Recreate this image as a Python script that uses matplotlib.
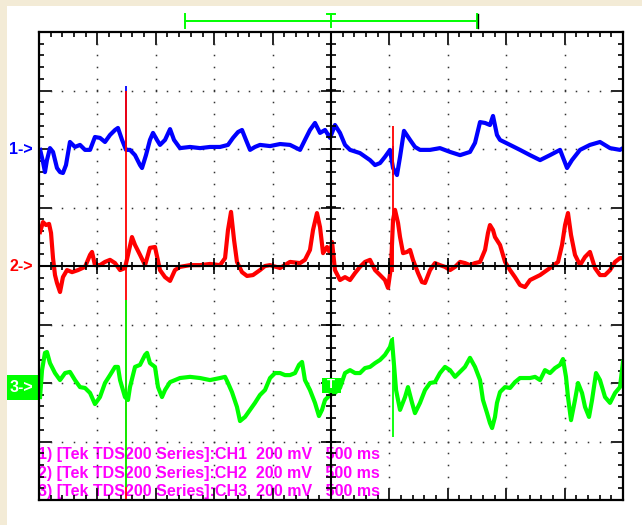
import numpy as np
import matplotlib
matplotlib.use("Agg")
from matplotlib import pyplot as plt
from matplotlib.patches import Rectangle

# scope settings
mv_per_div = 200
ms_per_div = 500
channel_offsets = [2, 0, -2]  # ground marker of each channel, in divisions

# CH1 (blue)
ch1_t = [10, 34, 51, 68, 94, 120, 154, 180, 205, 231, 265, 308, 351, 394, 437, 479, 522, 565, 608, 651,
         676, 711, 745, 779, 822, 865, 882, 916, 950, 976, 1010, 1036, 1079, 1122, 1156, 1207, 1293, 1379,
         1464, 1550, 1618, 1661, 1704, 1738, 1772, 1807, 1849, 1892, 1978, 2064, 2149, 2235, 2277, 2320,
         2363, 2406, 2449, 2492, 2534, 2577, 2620, 2663, 2748, 2834, 2877, 2920, 2962, 3005, 3031, 3065,
         3091, 3125, 3177, 3219, 3262, 3348, 3433, 3519, 3605, 3690, 3733, 3776, 3819, 3861, 3887, 3921,
         3947, 4033, 4118, 4204, 4290, 4375, 4461, 4521, 4563, 4632, 4717, 4803, 4889, 4974, 5000]
ch1_mv = [-3, -44, -79, -38, 3, -10, -65, -79, -82, -55, 24, 7, 14, -3, -3, 41, 38, 24, 48, 65,
          72, 31, -3, -3, -21, -55, -65, -21, 31, 55, 31, 14, 31, 68, 31, 3, 7, 3,
          7, 7, 14, 38, 58, 65, 31, -3, 7, 14, 10, 17, 14, -3, 31, 65,
          89, 55, 65, 38, 82, 55, 14, -3, -14, -38, -55, -48, -27, -3, -65, -89,
          -27, 62, 31, 7, -3, -3, 3, -10, -21, -10, 21, 92, 89, 82, 113, 48,
          31, 14, -3, -21, -38, -21, -3, -65, -38, -3, 14, 24, 3, -3, 3]

# CH2 (red)
ch2_t = [9, 34, 60, 86, 103, 120, 137, 154, 180, 205, 240, 283, 334, 394, 437, 454, 479, 522, 565, 608,
         651, 694, 736, 762, 796, 822, 865, 908, 950, 993, 1036, 1079, 1122, 1164, 1207, 1293, 1379, 1464,
         1550, 1593, 1618, 1644, 1670, 1695, 1738, 1781, 1832, 1892, 1935, 1978, 2064, 2149, 2235, 2277,
         2320, 2346, 2380, 2406, 2432, 2466, 2492, 2509, 2534, 2577, 2620, 2663, 2706, 2748, 2791, 2834,
         2877, 2920, 2962, 2988, 3014, 3031, 3048, 3074, 3091, 3117, 3151, 3177, 3202, 3245, 3279, 3305,
         3348, 3390, 3433, 3476, 3519, 3562, 3605, 3647, 3690, 3733, 3776, 3819, 3844, 3861, 3887, 3904,
         3947, 3990, 4033, 4075, 4118, 4161, 4204, 4290, 4375, 4444, 4478, 4504, 4529, 4555, 4589, 4632,
         4675, 4717, 4760, 4803, 4846, 4889, 4932, 4974, 5000]
ch2_mv = [116, 150, 140, 144, 113, 27, -31, -58, -89, -38, -14, -21, -14, -3, 38, 48, 3, 3, 14, 21,
          10, -14, -7, 38, 99, 72, 38, 3, 62, 65, -14, -38, -51, -14, -3, 3, 3, 7,
          3, 27, 123, 185, 89, 14, -21, -34, -31, -14, 0, 3, -7, 14, 10, 21,
          55, 123, 181, 133, 44, 65, 44, 82, -14, -48, -38, -48, -24, -3, 14, 21,
          -14, -31, -48, -75, -3, 157, 192, 147, 99, 44, 48, 55, 21, -24, -55, -58,
          -14, 10, 3, -3, -14, -3, 14, 10, 3, 10, 14, 55, 113, 140, 123, 99,
          72, 14, -14, -38, -65, -72, -48, -31, -7, 14, 72, 140, 181, 106, 38, 3,
          31, 48, -7, -31, -31, -14, 14, 27, 27]

# CH3 (green)
ch3_t = [9, 26, 51, 68, 94, 137, 180, 223, 265, 308, 351, 394, 437, 479, 522, 565, 608, 651, 676, 694,
         736, 762, 779, 822, 865, 908, 925, 950, 993, 1019, 1053, 1079, 1122, 1164, 1207, 1293, 1379,
         1464, 1550, 1593, 1618, 1652, 1695, 1721, 1764, 1807, 1849, 1892, 1935, 1978, 2021, 2064, 2106,
         2149, 2192, 2226, 2252, 2277, 2320, 2363, 2397, 2423, 2449, 2492, 2534, 2577, 2620, 2663, 2706,
         2748, 2791, 2834, 2877, 2920, 2962, 3005, 3022, 3039, 3057, 3091, 3134, 3159, 3194, 3219, 3262,
         3305, 3348, 3390, 3433, 3476, 3519, 3562, 3605, 3647, 3690, 3733, 3776, 3801, 3836, 3861, 3879,
         3904, 3921, 3947, 3990, 4033, 4075, 4118, 4204, 4247, 4290, 4332, 4375, 4418, 4461, 4486, 4512,
         4529, 4555, 4589, 4615, 4649, 4675, 4709, 4735, 4769, 4803, 4846, 4889, 4932, 4974, 5000]
ch3_mv = [-48, 44, 103, 106, 68, 34, 10, 34, 38, 10, -14, -17, -34, -72, -48, 0, 27, 55, 55, 10,
          -48, -58, -14, 55, 62, 96, 103, 68, 55, -14, -48, -24, 3, 10, 17, 21, 17,
          10, 17, 21, 0, -31, -82, -130, -116, -92, -68, -41, -24, 17, 34, 34, 27,
          27, 34, 62, 72, 10, -24, -68, -113, -92, -58, -41, -34, -17, 34, 44, 34,
          34, 51, 55, 68, 79, 96, 123, 147, 62, -24, -92, -48, -14, -68, -103, -68,
          -24, 0, 3, 34, 55, 44, 21, 38, 55, 86, 55, 10, -58, -103, -137, -154,
          -116, -68, -31, -14, -17, 3, 17, 17, 21, 10, 44, 34, 51, 62, 82, 21,
          -48, -127, -58, 0, -34, -82, -116, -58, 34, 10, -48, -68, -34, -14, 72]

# glitch spikes seen on all three channels (ms), with their top / bottom in mV
glitch_t = [745, 3031]
ch1_glitch = [(215, -3), (10, -90)]
ch2_glitch = [(600, -800), (480, -20)]
ch3_glitch = [(284, -356), (157, -185)]

labels = ["1) [Tek TDS200 Series]:CH1  200 mV   500 ms",
          "2) [Tek TDS200 Series]:CH2  200 mV   500 ms",
          "3) [Tek TDS200 Series]:CH3  200 mV   500 ms"]


def to_div(mv, offset):
    return np.asarray(mv, dtype=float) / mv_per_div + offset


def main():
    plt.rcParams["font.family"] = ["Liberation Sans", "DejaVu Sans"]

    fig = plt.figure(figsize=(6.42, 5.25), dpi=100, facecolor="#f3ebd6")
    fig.add_artist(Rectangle((7 / 642, 0), 1, 1 - 6 / 525, transform=fig.transFigure,
                             facecolor="white", edgecolor="none", zorder=0))
    ax = fig.add_axes([39 / 642, 25 / 525, 584 / 642, 468 / 525])
    ax.set_facecolor("white")

    t_end = 10 * ms_per_div
    ax.set_xlim(0, t_end)
    ax.set_ylim(-4, 4)

    # border ticks
    ax.set_xticks(np.arange(0, t_end + 1, ms_per_div))
    ax.set_xticks(np.arange(0, t_end + 1, ms_per_div / 5), minor=True)
    ax.set_yticks(np.arange(-4, 4.01, 1))
    ax.set_yticks(np.arange(-4, 4.01, 0.2), minor=True)
    ax.tick_params(which="both", direction="in", top=True, right=True, labelbottom=False,
                   labelleft=False, width=1.2, color="black")
    ax.tick_params(which="major", length=9)
    ax.tick_params(which="minor", length=3.8)
    for s in ax.spines.values():
        s.set_linewidth(1.6)
        s.set_zorder(6)

    # dotted graticule
    minor_x = np.arange(ms_per_div / 5, t_end, ms_per_div / 5)
    minor_y = np.arange(-3.8, 3.81, 0.2)
    for k in range(1, 10):
        if k == 5:
            continue
        ax.plot(np.full(len(minor_y), k * ms_per_div), minor_y, "s", ms=1.1, mew=0, color="#333333", zorder=2)
    for j in range(-3, 4):
        if j == 0:
            continue
        ax.plot(minor_x, np.full(len(minor_x), j), "s", ms=1.1, mew=0, color="#333333", zorder=2)

    # centre cross with its ticks
    ax.axvline(t_end / 2, color="black", lw=1.5, zorder=5)
    ax.axhline(0, color="black", lw=1.5, zorder=5)
    ax.plot(minor_x, np.zeros(len(minor_x)), "|", ms=6, mew=1.2, color="black", zorder=5)
    ax.plot(np.full(len(minor_y), t_end / 2), minor_y, "_", ms=7, mew=1.2, color="black", zorder=5)
    ax.plot(np.arange(ms_per_div, t_end, ms_per_div), np.zeros(9), "|", ms=12, mew=1.2, color="black", zorder=5)
    ax.plot(np.full(7, t_end / 2), np.arange(-3, 4), "_", ms=14, mew=1.2, color="black", zorder=5)

    # traces
    traces = [(ch1_t, ch1_mv, ch1_glitch, "#0000ff"),
              (ch2_t, ch2_mv, ch2_glitch, "#ff0000"),
              (ch3_t, ch3_mv, ch3_glitch, "#00ff00")]
    for i, (t, mv, glitch, color) in enumerate(traces):
        off = channel_offsets[i]
        ax.plot(t, to_div(mv, off), color=color, lw=3.0, zorder=3 + i * 0.1)
        hi = [g[0] for g in glitch]
        lo = [g[1] for g in glitch]
        ax.vlines(glitch_t, to_div(lo, off), to_div(hi, off), color=color, lw=1.3, zorder=3 + i * 0.1)

    # ground markers on the left
    ytr = ax.get_yaxis_transform()
    ax.text(-6 / 584, channel_offsets[0], "1->", color="#0000ff", fontsize=11.5, fontweight="bold",
            ha="right", va="center", transform=ytr)
    ax.text(-6 / 584, channel_offsets[1], "2->", color="#ff0000", fontsize=11.5, fontweight="bold",
            ha="right", va="center", transform=ytr)
    ax.add_patch(Rectangle((-32 / 584, channel_offsets[2] - 0.29), 32 / 584, 0.43, transform=ytr,
                           facecolor="#00ff00", edgecolor="none", clip_on=False, zorder=4))
    ax.text(-6 / 584, channel_offsets[2] - 0.07, "3->", color="white", fontsize=11.5, fontweight="bold",
            ha="right", va="center", transform=ytr, zorder=5)

    # trigger marker
    ax.add_patch(Rectangle((t_end / 2 - 80, -2.17), 163, 0.26, facecolor="#00ff00",
                           edgecolor="none", zorder=7))
    ax.text(t_end / 2 + 2, -2.04, "T", color="white", fontsize=9.5, fontweight="bold",
            ha="center", va="center", zorder=8)

    # record window bracket above the screen
    left, right = 2.5 * ms_per_div, 7.5 * ms_per_div
    ax.plot([left, right], [4.19, 4.19], color="#00ff00", lw=1.4, clip_on=False)
    ax.plot([left, left], [4.07, 4.31], color="#00ff00", lw=1.4, clip_on=False)
    ax.plot([right, right], [4.07, 4.31], color="#00ff00", lw=1.4, clip_on=False)
    ax.plot([right + 12, right + 12], [4.07, 4.31], color="black", lw=1.0, clip_on=False)
    ax.plot([t_end / 2, t_end / 2], [4.08, 4.31], color="#00ff00", lw=1.4, clip_on=False)
    ax.plot([t_end / 2 - 35, t_end / 2 + 35], [4.31, 4.31], color="#00ff00", lw=1.4, clip_on=False)

    # channel settings text
    for i, lab in enumerate(labels):
        ax.text(-8, -3.23 - 0.315 * i, lab, color="#ff00ff", fontsize=11.5, fontweight="bold",
                ha="left", va="center", zorder=1)

    fig.savefig("out.png", dpi=100, facecolor=fig.get_facecolor())


if __name__ == "__main__":
    main()
